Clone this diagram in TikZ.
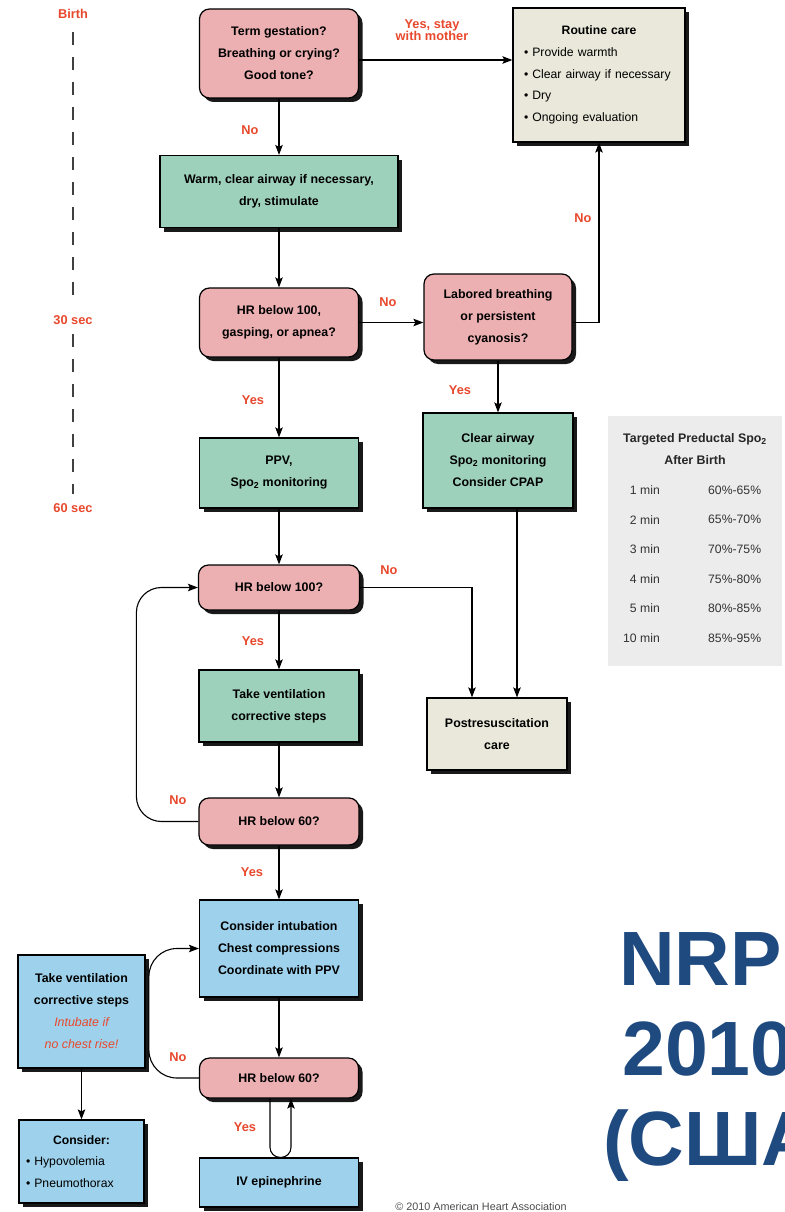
\documentclass[tikz,border=0pt]{standalone}
\usepackage{fontspec}
\setmainfont{Liberation Sans}
\usetikzlibrary{arrows.meta,shadows}

\definecolor{askpink}{RGB}{236,176,178}
\definecolor{actgreen}{RGB}{158,209,188}
\definecolor{carebeige}{RGB}{233,232,218}
\definecolor{cprblue}{RGB}{158,210,236}
\definecolor{tablegray}{RGB}{236,236,236}
\definecolor{nrpred}{RGB}{232,72,44}
\definecolor{nrpblue}{RGB}{31,74,128}

\newcommand\boxfnt{\fontsize{12.4}{22}\selectfont\bfseries}
\newcommand\listfnt{\fontsize{12.2}{21.6}\selectfont}

\tikzset{
    arr/.style={-{Stealth[length=10pt,width=7.5pt,inset=2pt]}, line width=1.1pt}, % all connectors
    }

\begin{document}
\begin{tikzpicture}[x=1pt, y=-1pt,
box/.style={draw=black, line width=1.2pt, font=\boxfnt, align=center, inner sep=4pt,
    drop shadow={shadow xshift=4pt, shadow yshift=-4pt, fill=black, opacity=0.9}},
asknode/.style={box, fill=askpink, rounded corners=10pt},
actnode/.style={box, fill=actgreen},
carenode/.style={box, fill=carebeige},
cprnode/.style={box, fill=cprblue},
lbl/.style={font=\fontsize{12.8}{15}\selectfont\bfseries, text=nrpred, align=center},
timeline/.style={dash pattern=on 13pt off 12pt, line width=2pt, draw=black!75},
tabtext/.style={font=\listfnt, text=black!80, inner sep=0pt},
titletext/.style={font=\fontsize{77}{90}\selectfont\bfseries, text=nrpblue, inner sep=0pt},
]
\useasboundingbox (0,0) rectangle (784,1212);
\clip (0,0) rectangle (784,1212);
\fill[white] (0,0) rectangle (784,1212);

% time scale
\node[lbl] (birth) at (73,14) {Birth};
\node[lbl] (sec30) at (73,320) {30 sec};
\node[lbl] (sec60) at (73,508) {60 sec};
\draw[timeline, shorten <=10pt, shorten >=6pt] (birth.south) -- (sec30.north);
\draw[timeline, shorten <=6pt, shorten >=6pt] (sec30.south) -- (sec60.north);

% main column
\node[asknode, minimum width=159pt, minimum height=89pt] (term) at (279,53.5) {Term gestation?\\Breathing or crying?\\Good tone?};
\node[actnode, minimum width=238pt, minimum height=72pt] (warm) at (279,191.5) {Warm, clear airway if necessary,\\dry, stimulate};
\node[asknode, minimum width=159pt, minimum height=69pt] (hrgasp) at (279,322.5) {HR below 100,\\gasping, or apnea?};
\node[actnode, minimum width=159pt, minimum height=70pt] (ppv) at (279,473) {PPV,\\Spo\textsubscript{2} monitoring};
\node[asknode, minimum width=161pt, minimum height=45pt] (hrA) at (279,587.5) {HR below 100?};
\node[actnode, minimum width=160pt, minimum height=72pt] (ventsteps) at (279,706) {Take ventilation\\corrective steps};
\node[asknode, minimum width=160pt, minimum height=47pt] (hrB) at (279,821.5) {HR below 60?};
\node[cprnode, minimum width=159pt, minimum height=97pt] (intub) at (279,948.5) {Consider intubation\\Chest compressions\\Coordinate with PPV};
\node[asknode, minimum width=159pt, minimum height=40pt] (hrC) at (279,1078) {HR below 60?};
\node[cprnode, minimum width=159pt, minimum height=49pt] (epi) at (279,1182.5) {IV epinephrine};

% right column
\node[carenode, text width=150pt, inner xsep=11pt, minimum height=134pt, align=left, font=\listfnt] (routine) at (599,75)
    {\makebox[\linewidth]{\bfseries Routine care}\\
     \textbullet\ Provide warmth\\
     \textbullet\ Clear airway if necessary\\
     \textbullet\ Dry\\
     \textbullet\ Ongoing evaluation};
\node[asknode, minimum width=148pt, minimum height=86pt] (labored) at (498,317) {Labored breathing\\or persistent\\cyanosis?};
\node[actnode, minimum width=150pt, minimum height=95pt] (clear) at (498,460.5) {Clear airway\\Spo\textsubscript{2} monitoring\\Consider CPAP};
\node[carenode, minimum width=140pt, minimum height=72pt] (post) at (497,734) {Postresuscitation\\care};

% left column
\node[cprnode, minimum width=127pt, minimum height=113pt] (ventblue) at (81.5,1011.5)
    {Take ventilation\\corrective steps\\{\color{nrpred}\mdseries\itshape Intubate if}\\{\color{nrpred}\mdseries\itshape no chest rise!}};
\node[cprnode, text width=111pt, inner xsep=7pt, minimum height=83pt, align=left, font=\listfnt] (consider) at (81.5,1161.5)
    {\makebox[\linewidth]{\bfseries Consider:}\\
     \textbullet\ Hypovolemia\\
     \textbullet\ Pneumothorax};

% Spo2 table
\node[fill=tablegray, minimum width=174pt, minimum height=250pt] (spotab) at (695,541) {};
\node[font=\boxfnt, align=center, inner sep=0pt, text=black!85] (tabhead) at (695,449) {Targeted Preductal Spo\textsubscript{2}\\After Birth};
\foreach \tm/\pc [count=\i from 0] in {1 min/60\%-65\%, 2 min/65\%-70\%, 3 min/70\%-75\%, 4 min/75\%-80\%, 5 min/80\%-85\%, 10 min/85\%-95\%}{
    \node[tabtext, anchor=east] (tmin\i) at (660,{490+29.6*\i}) {\tm};
    \node[tabtext, anchor=west] (tpct\i) at (708,{490+29.6*\i}) {\pc};
}

% connectors
\draw[arr] (term.south) -- (warm.north);
\draw[arr] ([yshift=-6.5pt]term.east) -- ([yshift=-6.5pt]term.east -| routine.west);
\draw[arr] (warm.south) -- (hrgasp.north);
\draw[arr] (hrgasp.east) -- (hrgasp.east -| labored.west);
\draw[arr] (hrgasp.east -| labored.east) -| (routine.south);
\draw[arr] (labored.south) -- (clear.north);
\draw[arr] (hrgasp.south) -- (ppv.north);
\draw[arr] (ppv.south) -- (hrA.north);
\draw[arr] (hrA.east) -| ([xshift=-25pt]post.north);
\draw[arr] ([xshift=19pt]clear.south) -- ([xshift=19pt]clear.south |- post.north);
\draw[arr] (hrA.south) -- (ventsteps.north);
\draw[arr] (ventsteps.south) -- (hrB.north);
\draw[arr, rounded corners=25pt] (hrB.west) -- ++(-62,0) |- (hrA.west);
\draw[arr] (hrB.south) -- (intub.north);
\draw[arr] (intub.south) -- (hrC.north);
\draw[arr, rounded corners=28pt] (hrC.west) -- ++(-50,0) |- (intub.west);
\draw[arr, rounded corners=10pt] ([xshift=-9pt]hrC.south) -- ([xshift=-9pt]epi.north) -- ([xshift=12pt]epi.north) -- ([xshift=12pt]hrC.south);
\draw[arr] (ventblue.south) -- (consider.north);

% answer labels
\node[lbl] (l1) at (250,130) {No};
\node[lbl] (l2) at (432,30) {Yes, stay\\[-3pt]with mother};
\node[lbl] (l3) at (388,302) {No};
\node[lbl] (l4) at (583,218) {No};
\node[lbl] (l5) at (460,390) {Yes};
\node[lbl] (l6) at (253,400) {Yes};
\node[lbl] (l7) at (389,570) {No};
\node[lbl] (l8) at (253,641) {Yes};
\node[lbl] (l9) at (178,800) {No};
\node[lbl] (l10) at (252,872) {Yes};
\node[lbl] (l11) at (178,1057) {No};
\node[lbl] (l12) at (245,1127) {Yes};

% title and credit
\node[titletext, anchor=base west] (nrp) at (619,985) {NRP};
\node[titletext, anchor=base west] (year) at (622,1075) {2010};
\node[titletext, anchor=base west] (usa) at (603,1165) {(США)};
\node[font=\fontsize{10.8}{12}\selectfont, text=black!70] (aha) at (481,1207) {\textcopyright\ 2010 American Heart Association};
\end{tikzpicture}
\end{document}
